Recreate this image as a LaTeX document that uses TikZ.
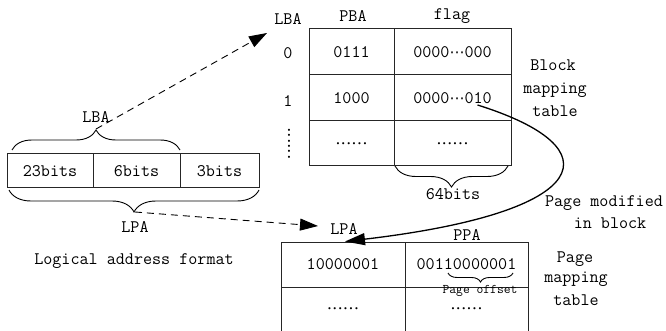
\documentclass[tikz,border=0pt]{standalone}
\usepackage{fontspec}
\newfontfamily\dotfont{Liberation Serif}
\newfontfamily\symfont{DejaVu Sans}
\usetikzlibrary{arrows.meta,decorations.pathreplacing,calc}
% six baseline dots used as an ellipsis
\newcommand\dotrow{{\dotfont .\kern1pt.\kern1pt.\kern1pt.\kern1pt.\kern1pt.}}
% centred three-dot ellipsis inside bit strings
\newcommand\middots{{\symfont\fontsize{15}{18}\selectfont ⋯}}

\begin{document}
\begin{tikzpicture}[x=1pt,y=-1pt,
  every node/.style={inner sep=0pt},
  txt/.style={font=\ttfamily\fontsize{17.6}{22}\selectfont},
  small/.style={font=\ttfamily\fontsize{13.2}{16}\selectfont},
  cell/.style={draw=black!85, line width=1pt, txt},
  curly/.style={decorate, decoration={brace, amplitude=#1}, line width=0.9pt},
  dasharrow/.style={dash pattern=on 7pt off 5pt, line width=0.9pt,
    -{Triangle[length=18pt,width=12pt]}},
  bendarrow/.style={line width=1.3pt, -{Triangle[length=20pt,width=12pt]}}]
\useasboundingbox (0,0) rectangle (666,331);

% logical address format
\node[cell, minimum width=86pt, minimum height=34pt] (f1) at (50,171) {23bits};
\node[cell, minimum width=87pt, minimum height=34pt] (f2) at (136.5,171) {6bits};
\node[cell, minimum width=79pt, minimum height=34pt] (f3) at (219.5,171) {3bits};
\draw[curly=20] (12,150) -- (180,150);
\draw[curly=22] (259,190) -- (9,190);
\node[txt, anchor=base] (lbaLbl) at (96,123) {LBA};
\node[txt, anchor=base] (lpaLbl) at (135,232) {LPA};
\node[txt, anchor=base] (caption) at (134,264) {Logical address format};
\coordinate (lbaTip) at (96,129);
\coordinate (lpaTip) at (135,212);

% block mapping table
\node[txt, anchor=base] (lbaHead) at (288,25) {LBA};
\node[txt, anchor=base] (pbaHead) at (353,22) {PBA};
\node[txt, anchor=base] (flagHead) at (452,20) {flag};
\node[txt] (row0) at (288,53) {0};
\node[txt] (row1) at (288,101) {1};
\node[txt, rotate=90] (rowDots) at (289,143.5) {\dotrow};
\node[cell, minimum width=85pt, minimum height=46pt] (b11) at (351.5,52) {0111};
\node[cell, minimum width=117pt, minimum height=46pt] (b12) at (452.5,52) {0000\middots000};
\node[cell, minimum width=85pt, minimum height=46pt] (b21) at (351.5,98) {1000};
\node[cell, minimum width=117pt, minimum height=46pt] (b22) at (452.5,98) {0000\middots010};
\node[cell, minimum width=85pt, minimum height=45pt] (b31) at (351.5,143.5) {\dotrow};
\node[cell, minimum width=117pt, minimum height=45pt] (b32) at (452.5,143.5) {\dotrow};
\draw[curly=21] (508,166) -- (395,166);
\node[txt, anchor=base] (bits64) at (453,199) {64bits};
\node[txt, anchor=base] (blk1) at (553,71) {Block};
\node[txt, anchor=base] (blk2) at (555,94) {mapping};
\node[txt, anchor=base] (blk3) at (555,117) {table};
\coordinate (lbaTo) at (267,33);

% page mapping table
\node[txt, anchor=base] (lpaHead) at (344,234) {LPA};
\node[txt, anchor=base] (ppaHead) at (467,240) {PPA};
\node[cell, minimum width=124pt, minimum height=45pt] (p11) at (343,264.5) {10000001};
\node[cell, minimum width=123pt, minimum height=45pt] (p12) at (466.5,264.5) {00110000001};
\node[cell, minimum width=124pt, minimum height=53pt] (p21) at (343,313.5) {};
\node[cell, minimum width=123pt, minimum height=53pt] (p22) at (466.5,313.5) {};
\node[txt] (pd1) at (343,309) {\dotrow};
\node[txt] (pd2) at (466.5,309) {\dotrow};
\draw[curly=9] (513,273) -- (448,273);
\node[small, anchor=base] (offLbl) at (480,293) {Page offset};
\node[txt, anchor=base] (pg1) at (575,262) {Page};
\node[txt, anchor=base] (pg2) at (576,282) {mapping};
\node[txt, anchor=base] (pg3) at (576,305) {table};
\node[txt, anchor=base] (mod1) at (604,207) {Page modified};
\node[txt, anchor=base] (mod2) at (610,228) {in block};
\coordinate (lpaTo) at (318,226);

% connectors
\draw[dasharrow] (lbaTip) -- (lbaTo);
\draw[dasharrow] (lpaTip) -- (lpaTo);
\coordinate (flagBit) at ($(b22.center)+(25,7)$);
\draw[bendarrow] (flagBit) .. controls (615,148) and (595,212) .. ($(p11.north)+(2,0)$);
\end{tikzpicture}
\end{document}
